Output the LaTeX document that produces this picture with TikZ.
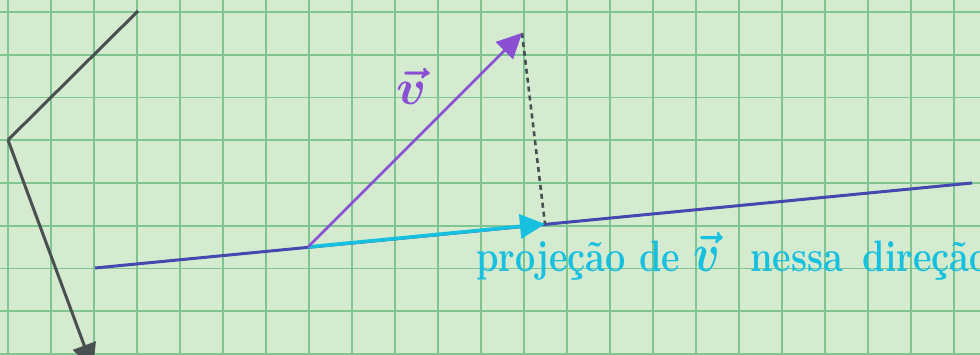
\RequirePackage{fix-cm}
\documentclass[tikz,border=0pt]{standalone}
\usepackage{bm}
\usepackage{fontspec}
\usetikzlibrary{arrows.meta}
\definecolor{paper}{HTML}{D4EBD0}
\definecolor{gridc}{HTML}{7EC592}
\definecolor{ink}{HTML}{4A4F52}
\definecolor{dirblue}{HTML}{4747B0}
\definecolor{projc}{HTML}{18C0E0}
\definecolor{vecc}{HTML}{8A4FD2}
\tikzset{
  gridline/.style={gridc, line width=1.6pt},
  vecline/.style={line width=#1, -{Triangle[length=25pt,width=24pt]}},
  vecline/.default=3pt,
  handtext/.style={font=\bfseries\fontsize{44}{46}\selectfont, inner sep=0pt, anchor=base west, xscale=0.82}
}
\begin{document}
\begin{tikzpicture}[x=1pt,y=-1pt]
\useasboundingbox (0,0) rectangle (980,355);
\clip (0,0) rectangle (980,355);
\fill[paper] (0,0) rectangle (980,355);
% grid
\foreach \i in {0,...,22} {\draw[gridline] (8+43*\i,0) -- (8+43*\i,355);}
\foreach \j in {0,...,8} {\draw[gridline] (0,12+42.75*\j) -- (980,12+42.75*\j);}
% points
\coordinate (top) at (138,11);
\coordinate (corner) at (8,140);
\coordinate (down) at (93,369);
\coordinate (d0) at (95,268);
\coordinate (d1) at (972,183);
\coordinate (o) at (308,247);
\coordinate (p) at (545,224);
\coordinate (v) at (522,33);
% gray axes
\draw[ink, line width=3pt, line join=round] (top) -- (corner);
\draw[ink, vecline=3pt] (corner) -- (down);
% direction line
\draw[dirblue, line width=3pt] (d0) -- (d1);
% dashed perpendicular
\draw[ink, line width=2.6pt, dash pattern=on 5pt off 4pt] (v) -- (p);
% projection
\draw[projc, vecline=3.6pt] (o) -- (p);
% vector v
\draw[vecc, vecline=2.6pt] (o) -- (v);
% labels
\node[vecc, font=\fontsize{50}{52}\selectfont, inner sep=0pt] (vlabel) at (412,86) {$\bm{\vec{v}}$};
\node[projc, handtext] (projlabel) at (476,272) {projeção de {\fontsize{54}{56}\selectfont$\bm{\vec{v}}$}\hspace{36pt}nessa\hspace{24pt}direção};
\end{tikzpicture}
\end{document}
